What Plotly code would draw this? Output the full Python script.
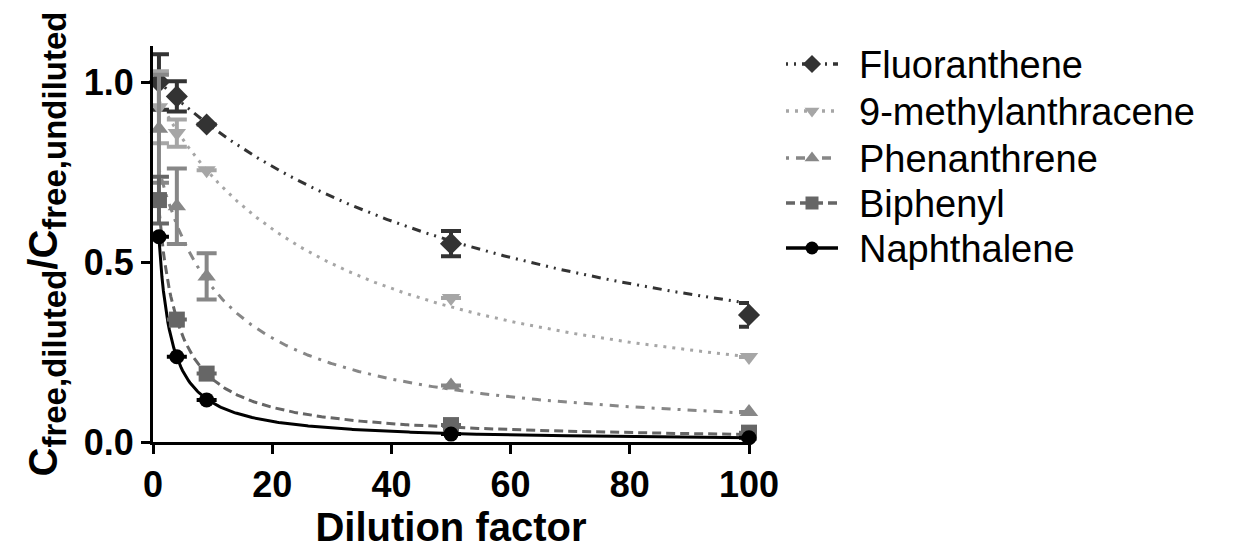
import numpy as np
import plotly.graph_objects as go

# ---- data ----
dilution = [1, 4, 9, 50, 100]

names = ["Fluoranthene", "9-methylanthracene", "Phenanthrene", "Biphenyl", "Naphthalene"]

fluoranthene = [1.00, 0.96, 0.882, 0.551, 0.353]
fluoranthene_err = [0.077, 0.042, 0.0, 0.035, 0.033]

methylanthracene = [0.93, 0.858, 0.755, 0.40, 0.236]
methylanthracene_err = [0.10, 0.038, 0.0, 0.0, 0.0]

phenanthrene = [0.87, 0.655, 0.46, 0.157, 0.083]
phenanthrene_err = [0.15, 0.105, 0.064, 0.0, 0.0]

biphenyl = [0.672, 0.34, 0.19, 0.047, 0.026]
biphenyl_err = [0.065, 0.0, 0.0, 0.0, 0.0]

naphthalene = [0.570, 0.237, 0.117, 0.022, 0.012]
naphthalene_err = [0.0, 0.0, 0.0, 0.0, 0.0]

values = [fluoranthene, methylanthracene, phenanthrene, biphenyl, naphthalene]
errors = [fluoranthene_err, methylanthracene_err, phenanthrene_err, biphenyl_err, naphthalene_err]

# fitted model y = a / (b + x) + c, parameters
fit_a = [62.0, 28.5, 8.86, 2.15, 1.21]
fit_b = [61.0, 29.6, 10.7, 2.33, 1.14]
fit_c = [0.0, 0.017, 0.0, 0.0, 0.0]

x_ticks = [0, 20, 40, 60, 80, 100]
y_ticks = [0.0, 0.5, 1.0]
y_tick_text = ["0.0", "0.5", "1.0"]

# ---- styles / layout constants ----
W, H = 1253, 552
PLOT_L, PLOT_R, PLOT_T, PLOT_B = 153, 749, 46, 442
colors = ["#333333", "#a6a6a6", "#878787", "#666666", "#000000"]
symbols = ["diamond", "triangle-down", "triangle-up", "square", "circle"]
msizes = [17, 16, 16, 16, 15]
leg_msizes = [14, 13, 13, 13, 13]
dashes = ["2px,6px,2px,6px,9px,6px", "3px,6px", "3px,7px,9px,7px", "9px,5px", "solid"]
LEG_ROWS = [64, 111, 158, 203, 248]
LEG_X0, LEG_XM, LEG_X1, LEG_TX = 786, 812, 838, 857

FONT = "Liberation Sans, Arial, sans-serif"

fig = go.Figure()

# fit curves
for i in range(5):
    xf = np.linspace(min(dilution), max(dilution), 400)
    yf = fit_a[i] / (fit_b[i] + xf) + fit_c[i]
    fig.add_trace(go.Scatter(
        x=xf, y=yf, mode="lines", showlegend=False, hoverinfo="skip",
        line=dict(color=colors[i], width=3, dash=dashes[i]),
    ))

# data points with error bars
for i in range(5):
    fig.add_trace(go.Scatter(
        x=dilution, y=values[i], mode="markers", showlegend=False, name=names[i],
        marker=dict(symbol=symbols[i], size=msizes[i], color=colors[i]),
        error_y=dict(type="data", array=errors[i], visible=True,
                     color=colors[i], thickness=4, width=10),
        cliponaxis=False,
    ))

# hand-built legend on an invisible pixel-space overlay axis
for i in range(5):
    fig.add_trace(go.Scatter(
        x=[LEG_X0, LEG_X1], y=[LEG_ROWS[i], LEG_ROWS[i]], mode="lines",
        xaxis="x2", yaxis="y2", showlegend=False, hoverinfo="skip",
        line=dict(color=colors[i], width=3.5, dash=dashes[i]), cliponaxis=False,
    ))
    fig.add_trace(go.Scatter(
        x=[LEG_XM], y=[LEG_ROWS[i]], mode="markers",
        xaxis="x2", yaxis="y2", showlegend=False, hoverinfo="skip",
        marker=dict(symbol=symbols[i], size=leg_msizes[i], color=colors[i]), cliponaxis=False,
    ))
    fig.add_annotation(
        x=LEG_TX, y=LEG_ROWS[i] + 1, xref="x2", yref="y2", text=names[i],
        showarrow=False, xanchor="left", yanchor="middle",
        font=dict(size=38, family=FONT, color="black"),
    )

fig.update_layout(
    width=W, height=H,
    margin=dict(l=0, r=0, t=0, b=0),
    paper_bgcolor="white", plot_bgcolor="rgba(0,0,0,0)",
    font=dict(family=FONT, color="black"),
    showlegend=False,
    xaxis=dict(domain=[PLOT_L / W, PLOT_R / W], range=[0, 100],
               tickvals=x_ticks, ticktext=[str(v) for v in x_ticks],
               showline=True, linewidth=3, linecolor="black", ticks="outside",
               ticklen=9, tickwidth=3, tickcolor="black", showgrid=False, zeroline=False,
               tickfont=dict(size=36, family=FONT, weight="bold"), automargin=False,
               title=dict(text="<b>Dilution factor</b>", font=dict(size=40, family=FONT), standoff=6)),
    yaxis=dict(domain=[(H - PLOT_B) / H, (H - PLOT_T) / H], range=[0, 1.1],
               tickvals=y_ticks, ticktext=y_tick_text,
               showline=True, linewidth=3, linecolor="black", ticks="outside",
               ticklen=9, tickwidth=3, tickcolor="black", showgrid=False, zeroline=False,
               tickfont=dict(size=36, family=FONT, weight="bold"), automargin=False,
               title=dict(text=("<b>C<sub><span style='font-size:33px'>free,diluted</span></sub>"
                                "/C<sub><span style='font-size:33px'>free,undiluted</span></sub></b>"),
                          font=dict(size=40, family=FONT), standoff=14)),
    xaxis2=dict(domain=[0, 1], range=[0, W], anchor="y2", visible=False, fixedrange=True),
    yaxis2=dict(domain=[0, 1], range=[H, 0], anchor="x2", visible=False, fixedrange=True),
)

fig.write_html("out.html")
